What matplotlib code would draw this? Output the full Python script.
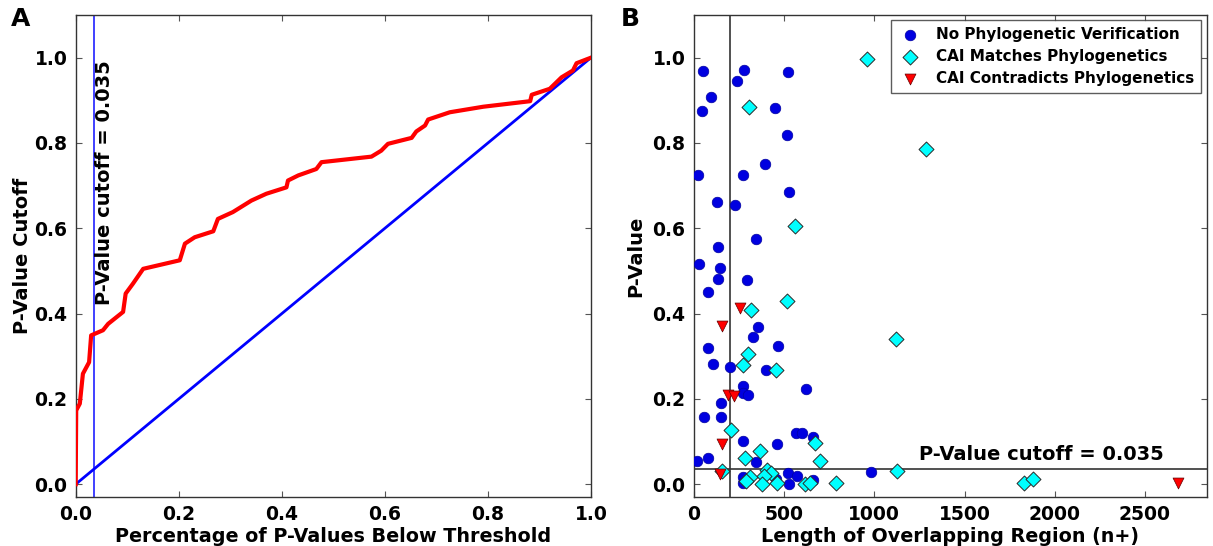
import matplotlib
matplotlib.use("Agg")
import matplotlib.pyplot as plt

# ---------------------------------------------------------
# Panel A data: cumulative curve of p-value cutoffs
# ---------------------------------------------------------
frac_below = [0.0, 0.001, 0.008, 0.014, 0.026, 0.030, 0.053, 0.063, 0.092, 0.097,
              0.111, 0.131, 0.202, 0.212, 0.231, 0.267, 0.276, 0.305, 0.341, 0.370,
              0.409, 0.412, 0.432, 0.467, 0.477, 0.574, 0.593, 0.606, 0.652, 0.661,
              0.678, 0.684, 0.726, 0.791, 0.882, 0.885, 0.920, 0.943, 0.965, 0.972, 1.0]
pval_cutoff = [0.0, 0.173, 0.189, 0.259, 0.286, 0.349, 0.361, 0.376, 0.404, 0.447,
               0.470, 0.505, 0.525, 0.564, 0.579, 0.593, 0.622, 0.638, 0.665, 0.681,
               0.696, 0.712, 0.724, 0.739, 0.755, 0.768, 0.782, 0.798, 0.812, 0.827,
               0.841, 0.855, 0.872, 0.885, 0.898, 0.913, 0.927, 0.954, 0.970, 0.987, 1.0]
diag = [0.0, 1.0]

cutoff = 0.035

# ---------------------------------------------------------
# Panel B data: overlap length vs p-value
# ---------------------------------------------------------
no_phylo_len = [49, 278, 241, 524, 95, 47, 452, 516, 393, 23, 274, 526, 130, 227, 343,
                136, 27, 145, 132, 296, 77, 357, 330, 468, 77, 106, 201, 400, 622, 274,
                274, 299, 149, 55, 149, 566, 598, 659, 274, 463, 18, 79, 343, 982, 524,
                570, 274, 274, 455, 529, 662]
no_phylo_p = [0.968, 0.970, 0.945, 0.966, 0.907, 0.876, 0.883, 0.819, 0.750, 0.726,
              0.726, 0.685, 0.661, 0.655, 0.575, 0.555, 0.517, 0.506, 0.482, 0.478,
              0.451, 0.369, 0.345, 0.323, 0.320, 0.281, 0.274, 0.268, 0.223, 0.230,
              0.214, 0.209, 0.191, 0.158, 0.158, 0.120, 0.120, 0.111, 0.101, 0.094,
              0.055, 0.062, 0.051, 0.029, 0.026, 0.020, 0.017, 0.003, 0.013, 0.0, 0.011]

match_len = [961, 1285, 304, 561, 518, 315, 1118, 300, 271, 454, 204, 673, 365, 284,
             697, 155, 407, 426, 389, 310, 291, 378, 463, 618, 644, 788, 1128, 1831, 1881]
match_p = [0.998, 0.785, 0.884, 0.606, 0.430, 0.408, 0.341, 0.306, 0.279, 0.268,
           0.127, 0.097, 0.077, 0.061, 0.054, 0.031, 0.033, 0.027, 0.019, 0.017,
           0.008, 0.0, 0.002, 0.0, 0.002, 0.002, 0.030, 0.002, 0.012]

contra_len = [256, 156, 188, 224, 156, 145, 2681]
contra_p = [0.413, 0.370, 0.209, 0.206, 0.095, 0.025, 0.002]

length_cutoff = 200

# =========================================================
# Figure
# =========================================================
plt.rcParams["font.family"] = "DejaVu Sans"
plt.rcParams["font.weight"] = "bold"

fig = plt.figure(figsize=(12.13, 5.46), dpi=100)
ax_a = fig.add_axes([0.0624, 0.0897, 0.4248, 0.8828])
ax_b = fig.add_axes([0.572, 0.0897, 0.4228, 0.8828])

for ax in (ax_a, ax_b):
    for sp in ax.spines.values():
        sp.set_color("#333333")
        sp.set_linewidth(1.0)
    ax.tick_params(direction="in", top=True, right=True, length=4,
                   color="#555555", labelsize=13.5, pad=6)

# ---------------------------------------------------------
# Panel A
# ---------------------------------------------------------
ax_a.plot(frac_below, pval_cutoff, color="red", linewidth=3, zorder=3)
ax_a.plot(diag, diag, color="blue", linewidth=2, zorder=2)
ax_a.axvline(cutoff, color="#4040ff", linewidth=1.4, zorder=1)
ax_a.text(cutoff + 0.003, 0.42, "P-Value cutoff = 0.035", rotation=90,
          ha="left", va="bottom", fontsize=14, fontweight="bold")

ax_a.set_xlim(0, 1)
ax_a.set_ylim(-0.03, 1.1)
ax_a.set_xticks([0.0, 0.2, 0.4, 0.6, 0.8, 1.0])
ax_a.set_yticks([0.0, 0.2, 0.4, 0.6, 0.8, 1.0])
ax_a.set_xticklabels(["0.0", "0.2", "0.4", "0.6", "0.8", "1.0"], fontweight="bold")
ax_a.set_yticklabels(["0.0", "0.2", "0.4", "0.6", "0.8", "1.0"], fontweight="bold")
ax_a.set_xlabel("Percentage of P-Values Below Threshold", fontsize=13.8,
                fontweight="bold", labelpad=2)
ax_a.set_ylabel("P-Value Cutoff", fontsize=14, fontweight="bold")
ax_a.yaxis.set_label_coords(-0.084, 0.5)

# ---------------------------------------------------------
# Panel B
# ---------------------------------------------------------
ax_b.axhline(cutoff, color="#333333", linewidth=1.2, zorder=1)
ax_b.axvline(length_cutoff, color="#333333", linewidth=1.2, zorder=1)

ax_b.scatter(no_phylo_len, no_phylo_p, s=58, marker="o", color="#0000e0",
             edgecolors="#0000a0", linewidths=0.5, zorder=3,
             label="No Phylogenetic Verification")
ax_b.scatter(match_len, match_p, s=58, marker="D", color="cyan",
             edgecolors="#2a2a2a", linewidths=0.7, zorder=3,
             label="CAI Matches Phylogenetics")
ax_b.scatter(contra_len, contra_p, s=62, marker="v", color="red",
             edgecolors="#600000", linewidths=0.5, zorder=4,
             label="CAI Contradicts Phylogenetics")

ax_b.text(1925, cutoff + 0.013, "P-Value cutoff = 0.035", ha="center",
          va="bottom", fontsize=14, fontweight="bold")

ax_b.set_xlim(0, 2842)
ax_b.set_ylim(-0.03, 1.1)
ax_b.set_xticks([0, 500, 1000, 1500, 2000, 2500])
ax_b.set_yticks([0.0, 0.2, 0.4, 0.6, 0.8, 1.0])
ax_b.set_xticklabels(["0", "500", "1000", "1500", "2000", "2500"], fontweight="bold")
ax_b.set_yticklabels(["0.0", "0.2", "0.4", "0.6", "0.8", "1.0"], fontweight="bold")
ax_b.set_xlabel("Length of Overlapping Region (n+)", fontsize=13.8,
                fontweight="bold", labelpad=2)
ax_b.set_ylabel("P-Value", fontsize=14, fontweight="bold")
ax_b.yaxis.set_label_coords(-0.095, 0.5)

leg = ax_b.legend(loc="upper right", scatterpoints=1, fontsize=11,
                  frameon=True, fancybox=False, borderaxespad=0.35,
                  handletextpad=0.9, borderpad=0.45, labelspacing=0.45,
                  handlelength=1.6)
leg.get_frame().set_edgecolor("#333333")
leg.get_frame().set_linewidth(1.0)
for t in leg.get_texts():
    t.set_fontweight("bold")

# panel letters
fig.text(0.009, 0.988, "A", fontsize=18, fontweight="bold", va="top", ha="left")
fig.text(0.512, 0.988, "B", fontsize=18, fontweight="bold", va="top", ha="left")

fig.savefig("out.png", dpi=100)
